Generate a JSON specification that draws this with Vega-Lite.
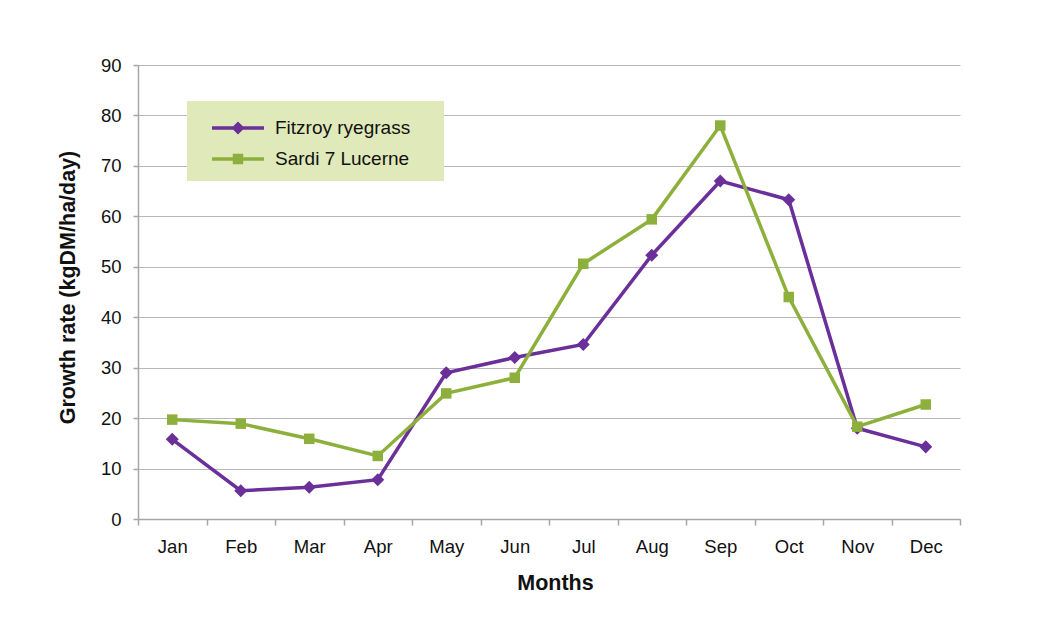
{
  "$schema": "https://vega.github.io/schema/vega-lite/v6.json",
  "width": 822,
  "height": 454,
  "autosize": "none",
  "padding": {"left": 138, "top": 65, "right": 80, "bottom": 110},
  "background": "white",
  "config": {
    "view": {"stroke": null},
    "font": "Liberation Sans",
    "axis": {
      "labelFont": "Liberation Sans",
      "titleFont": "Liberation Sans",
      "labelFontSize": 18.5,
      "titleFontSize": 21.5,
      "titleFontWeight": "bold",
      "labelColor": "#111111",
      "titleColor": "#111111",
      "domainColor": "#a6a6a6",
      "domainWidth": 1.5,
      "tickColor": "#a6a6a6",
      "tickWidth": 1.5,
      "gridColor": "#b8b8b8",
      "gridWidth": 1
    },
    "legend": {
      "orient": "none",
      "legendX": 49,
      "legendY": 36,
      "padding": 12,
      "fillColor": "#e0e9ba",
      "labelFont": "Liberation Sans",
      "labelFontSize": 19,
      "labelColor": "#111111",
      "symbolSize": 900,
      "symbolOffset": 24,
      "labelOffset": 22,
      "rowPadding": 6,
      "symbolStrokeWidth": 0,
      "symbolOpacity": 1
    }
  },
  "data": {
    "values": [
      {"month": "Jan", "series": "Fitzroy ryegrass", "rate": 15.8},
      {"month": "Feb", "series": "Fitzroy ryegrass", "rate": 5.6},
      {"month": "Mar", "series": "Fitzroy ryegrass", "rate": 6.3},
      {"month": "Apr", "series": "Fitzroy ryegrass", "rate": 7.8},
      {"month": "May", "series": "Fitzroy ryegrass", "rate": 29},
      {"month": "Jun", "series": "Fitzroy ryegrass", "rate": 32},
      {"month": "Jul", "series": "Fitzroy ryegrass", "rate": 34.6},
      {"month": "Aug", "series": "Fitzroy ryegrass", "rate": 52.3},
      {"month": "Sep", "series": "Fitzroy ryegrass", "rate": 67},
      {"month": "Oct", "series": "Fitzroy ryegrass", "rate": 63.3},
      {"month": "Nov", "series": "Fitzroy ryegrass", "rate": 18},
      {"month": "Dec", "series": "Fitzroy ryegrass", "rate": 14.3},
      {"month": "Jan", "series": "Sardi 7 Lucerne", "rate": 19.7},
      {"month": "Feb", "series": "Sardi 7 Lucerne", "rate": 18.9},
      {"month": "Mar", "series": "Sardi 7 Lucerne", "rate": 15.9},
      {"month": "Apr", "series": "Sardi 7 Lucerne", "rate": 12.5},
      {"month": "May", "series": "Sardi 7 Lucerne", "rate": 24.9},
      {"month": "Jun", "series": "Sardi 7 Lucerne", "rate": 28},
      {"month": "Jul", "series": "Sardi 7 Lucerne", "rate": 50.6},
      {"month": "Aug", "series": "Sardi 7 Lucerne", "rate": 59.4},
      {"month": "Sep", "series": "Sardi 7 Lucerne", "rate": 78},
      {"month": "Oct", "series": "Sardi 7 Lucerne", "rate": 44},
      {"month": "Nov", "series": "Sardi 7 Lucerne", "rate": 18.3},
      {"month": "Dec", "series": "Sardi 7 Lucerne", "rate": 22.7}
    ]
  },
  "encoding": {
    "x": {
      "field": "month",
      "type": "ordinal",
      "sort": ["Jan", "Feb", "Mar", "Apr", "May", "Jun", "Jul", "Aug", "Sep", "Oct", "Nov", "Dec"],
      "bandPosition": 0.5,
      "scale": {"type": "band", "paddingInner": 0, "paddingOuter": 0},
      "axis": {
        "title": "Months",
        "titleX": 417,
        "labelAngle": 0,
        "tickBand": "extent",
        "tickSize": 6,
        "labelPadding": 12,
        "titlePadding": 17,
        "grid": false
      }
    },
    "y": {
      "field": "rate",
      "type": "quantitative",
      "scale": {"domain": [0, 90], "nice": false},
      "axis": {
        "title": "Growth rate (kgDM/ha/day)",
        "titleY": 222,
        "values": [0, 10, 20, 30, 40, 50, 60, 70, 80, 90],
        "tickSize": 5,
        "labelPadding": 12,
        "titlePadding": 21,
        "grid": true
      }
    },
    "color": {
      "field": "series",
      "type": "nominal",
      "scale": {"domain": ["Fitzroy ryegrass", "Sardi 7 Lucerne"], "range": ["#6b2f9a", "#8db03c"]},
      "legend": {
        "title": " ",
        "titleOrient": "right",
        "titlePadding": 22,
        "titleFontSize": 19,
        "encode": {
          "symbols": {
            "update": {
              "shape": {"signal": "datum.value === 'Fitzroy ryegrass' ? 'M-1.733,-0.113L-0.32,-0.113L0,-0.433L0.32,-0.113L1.733,-0.113L1.733,0.113L0.32,0.113L0,0.433L-0.32,0.113L-1.733,0.113Z' : 'M-1.733,-0.113L-0.347,-0.113L-0.347,-0.347L0.347,-0.347L0.347,-0.113L1.733,-0.113L1.733,0.113L0.347,0.113L0.347,0.347L-0.347,0.347L-0.347,0.113L-1.733,0.113Z'"},
              "fill": {"signal": "datum.value === 'Fitzroy ryegrass' ? '#6b2f9a' : '#8db03c'"},
              "size": {"value": 900},
              "strokeWidth": {"value": 0}
            }
          }
        }
      }
    }
  },
  "layer": [
    {
      "mark": {"type": "line", "strokeWidth": 3.5}
    },
    {
      "transform": [{"filter": "datum.series === 'Fitzroy ryegrass'"}],
      "mark": {"type": "point", "filled": true, "opacity": 1, "shape": "diamond", "size": 170}
    },
    {
      "transform": [{"filter": "datum.series === 'Sardi 7 Lucerne'"}],
      "mark": {"type": "point", "filled": true, "opacity": 1, "shape": "square", "size": 110}
    }
  ]
}
